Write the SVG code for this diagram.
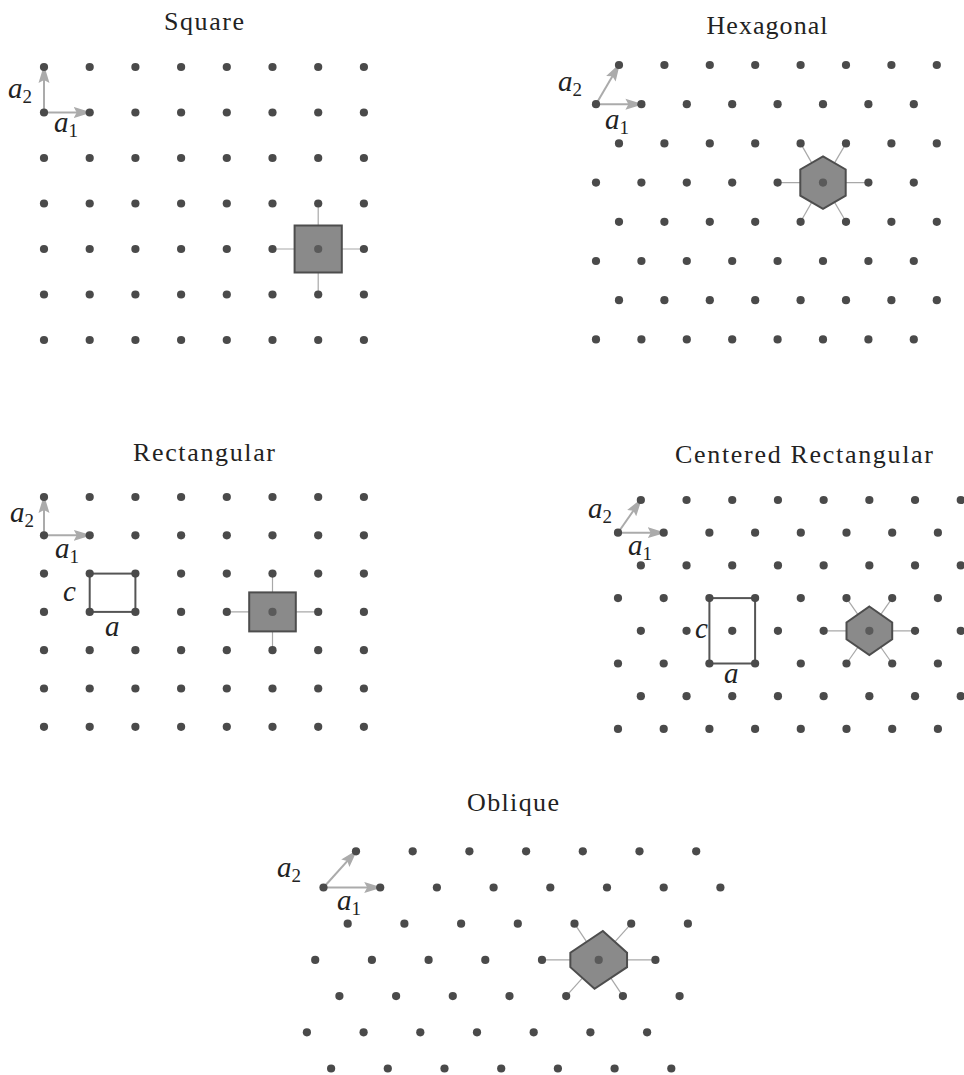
<svg xmlns="http://www.w3.org/2000/svg" xmlns:xlink="http://www.w3.org/1999/xlink" width="964" height="1075" viewBox="0 0 964 1075">
<style>
.bg{fill:#fff}
.t{font-family:"Liberation Serif","Times New Roman",serif;font-size:26px;fill:#222;text-anchor:middle}
.m{font-family:"Liberation Serif","Times New Roman",serif;font-size:29px;font-style:italic;fill:#222}
.s{font-size:19px;font-style:normal}
.pts use{fill:#4a4a4a}
.nb{stroke:#a8a8a8;stroke-width:1.2;fill:none}
.ws{fill:#8a8a8a;stroke:#4d4d4d;stroke-width:2}
.cd{fill:#5a5a5a}
.cv{fill:none;stroke:#555;stroke-width:2}
.ar{stroke:#ababab;stroke-width:2;fill:none;marker-end:url(#ah)}
</style>
<defs>
<circle id="d" r="4.1"/>
<marker id="ah" markerUnits="userSpaceOnUse" markerWidth="19" markerHeight="12" refX="16" refY="6" orient="auto">
<path d="M0,0.5 L18,6 L0,11.5 L3,6 z" fill="#ababab"/>
</marker>
</defs>
<rect class="bg" x="0" y="0" width="964" height="1075"/>

<!-- ========== SQUARE ========== -->
<g id="square">
<text class="t" x="204" y="30" textLength="80">Square</text>
<g id="square-connectors">
<line class="nb" x1="318.2" y1="249" x2="272.5" y2="249"/>
<line class="nb" x1="318.2" y1="249" x2="363.9" y2="249"/>
<line class="nb" x1="318.2" y1="249" x2="318.2" y2="203.5"/>
<line class="nb" x1="318.2" y1="249" x2="318.2" y2="294.5"/>
<line class="ar" x1="44" y1="112.5" x2="89.7" y2="112.5"/>
<line class="ar" x1="44" y1="112.5" x2="44" y2="67"/>
</g>
<g class="pts" id="square-points">
<use href="#d" x="44" y="67"/><use href="#d" x="89.7" y="67"/><use href="#d" x="135.4" y="67"/><use href="#d" x="181.1" y="67"/><use href="#d" x="226.8" y="67"/><use href="#d" x="272.5" y="67"/><use href="#d" x="318.2" y="67"/><use href="#d" x="363.9" y="67"/>
<use href="#d" x="44" y="112.5"/><use href="#d" x="89.7" y="112.5"/><use href="#d" x="135.4" y="112.5"/><use href="#d" x="181.1" y="112.5"/><use href="#d" x="226.8" y="112.5"/><use href="#d" x="272.5" y="112.5"/><use href="#d" x="318.2" y="112.5"/><use href="#d" x="363.9" y="112.5"/>
<use href="#d" x="44" y="158"/><use href="#d" x="89.7" y="158"/><use href="#d" x="135.4" y="158"/><use href="#d" x="181.1" y="158"/><use href="#d" x="226.8" y="158"/><use href="#d" x="272.5" y="158"/><use href="#d" x="318.2" y="158"/><use href="#d" x="363.9" y="158"/>
<use href="#d" x="44" y="203.5"/><use href="#d" x="89.7" y="203.5"/><use href="#d" x="135.4" y="203.5"/><use href="#d" x="181.1" y="203.5"/><use href="#d" x="226.8" y="203.5"/><use href="#d" x="272.5" y="203.5"/><use href="#d" x="318.2" y="203.5"/><use href="#d" x="363.9" y="203.5"/>
<use href="#d" x="44" y="249"/><use href="#d" x="89.7" y="249"/><use href="#d" x="135.4" y="249"/><use href="#d" x="181.1" y="249"/><use href="#d" x="226.8" y="249"/><use href="#d" x="272.5" y="249"/><use href="#d" x="363.9" y="249"/>
<use href="#d" x="44" y="294.5"/><use href="#d" x="89.7" y="294.5"/><use href="#d" x="135.4" y="294.5"/><use href="#d" x="181.1" y="294.5"/><use href="#d" x="226.8" y="294.5"/><use href="#d" x="272.5" y="294.5"/><use href="#d" x="318.2" y="294.5"/><use href="#d" x="363.9" y="294.5"/>
<use href="#d" x="44" y="340"/><use href="#d" x="89.7" y="340"/><use href="#d" x="135.4" y="340"/><use href="#d" x="181.1" y="340"/><use href="#d" x="226.8" y="340"/><use href="#d" x="272.5" y="340"/><use href="#d" x="318.2" y="340"/><use href="#d" x="363.9" y="340"/>
</g>
<g id="square-cell">
<rect class="ws" x="294.6" y="225.5" width="47.2" height="47"/>
<circle class="cd" cx="318.2" cy="249" r="4.1"/>
</g>
<text class="m" x="8" y="98">a<tspan class="s" dy="5">2</tspan></text>
<text class="m" x="54" y="132">a<tspan class="s" dy="5">1</tspan></text>
</g>

<!-- ========== HEXAGONAL ========== -->
<g id="hexagonal">
<text class="t" x="767" y="34" textLength="121">Hexagonal</text>
<g id="hex-connectors">
<line class="nb" x1="823" y1="182.6" x2="777.6" y2="182.6"/>
<line class="nb" x1="823" y1="182.6" x2="868.4" y2="182.6"/>
<line class="nb" x1="823" y1="182.6" x2="800.6" y2="143.4"/>
<line class="nb" x1="823" y1="182.6" x2="846" y2="143.4"/>
<line class="nb" x1="823" y1="182.6" x2="800.6" y2="221.8"/>
<line class="nb" x1="823" y1="182.6" x2="846" y2="221.8"/>
<line class="ar" x1="596" y1="104.2" x2="641.4" y2="104.2"/>
<line class="ar" x1="596" y1="104.2" x2="619" y2="65"/>
</g>
<g class="pts" id="hex-points">
<use href="#d" x="619" y="65"/><use href="#d" x="664.4" y="65"/><use href="#d" x="709.8" y="65"/><use href="#d" x="755.2" y="65"/><use href="#d" x="800.6" y="65"/><use href="#d" x="846" y="65"/><use href="#d" x="891.4" y="65"/><use href="#d" x="936.8" y="65"/>
<use href="#d" x="596" y="104.2"/><use href="#d" x="641.4" y="104.2"/><use href="#d" x="686.8" y="104.2"/><use href="#d" x="732.2" y="104.2"/><use href="#d" x="777.6" y="104.2"/><use href="#d" x="823" y="104.2"/><use href="#d" x="868.4" y="104.2"/><use href="#d" x="913.8" y="104.2"/>
<use href="#d" x="619" y="143.4"/><use href="#d" x="664.4" y="143.4"/><use href="#d" x="709.8" y="143.4"/><use href="#d" x="755.2" y="143.4"/><use href="#d" x="800.6" y="143.4"/><use href="#d" x="846" y="143.4"/><use href="#d" x="891.4" y="143.4"/><use href="#d" x="936.8" y="143.4"/>
<use href="#d" x="596" y="182.6"/><use href="#d" x="641.4" y="182.6"/><use href="#d" x="686.8" y="182.6"/><use href="#d" x="732.2" y="182.6"/><use href="#d" x="777.6" y="182.6"/><use href="#d" x="868.4" y="182.6"/><use href="#d" x="913.8" y="182.6"/>
<use href="#d" x="619" y="221.8"/><use href="#d" x="664.4" y="221.8"/><use href="#d" x="709.8" y="221.8"/><use href="#d" x="755.2" y="221.8"/><use href="#d" x="800.6" y="221.8"/><use href="#d" x="846" y="221.8"/><use href="#d" x="891.4" y="221.8"/><use href="#d" x="936.8" y="221.8"/>
<use href="#d" x="596" y="261"/><use href="#d" x="641.4" y="261"/><use href="#d" x="686.8" y="261"/><use href="#d" x="732.2" y="261"/><use href="#d" x="777.6" y="261"/><use href="#d" x="823" y="261"/><use href="#d" x="868.4" y="261"/><use href="#d" x="913.8" y="261"/>
<use href="#d" x="619" y="300.2"/><use href="#d" x="664.4" y="300.2"/><use href="#d" x="709.8" y="300.2"/><use href="#d" x="755.2" y="300.2"/><use href="#d" x="800.6" y="300.2"/><use href="#d" x="846" y="300.2"/><use href="#d" x="891.4" y="300.2"/><use href="#d" x="936.8" y="300.2"/>
<use href="#d" x="596" y="339.4"/><use href="#d" x="641.4" y="339.4"/><use href="#d" x="686.8" y="339.4"/><use href="#d" x="732.2" y="339.4"/><use href="#d" x="777.6" y="339.4"/><use href="#d" x="823" y="339.4"/><use href="#d" x="868.4" y="339.4"/><use href="#d" x="913.8" y="339.4"/>
</g>
<g id="hex-cell">
<polygon class="ws" points="823,156.4 845.7,169.5 845.7,195.7 823,208.8 800.3,195.7 800.3,169.5"/>
<circle class="cd" cx="823" cy="182.6" r="4.1"/>
</g>
<text class="m" x="558" y="91">a<tspan class="s" dy="5">2</tspan></text>
<text class="m" x="605" y="129">a<tspan class="s" dy="5">1</tspan></text>
</g>

<!-- ========== RECTANGULAR ========== -->
<g id="rectangular">
<text class="t" x="204" y="461" textLength="142">Rectangular</text>
<g id="rect-connectors">
<line class="nb" x1="272.5" y1="611.9" x2="226.8" y2="611.9"/>
<line class="nb" x1="272.5" y1="611.9" x2="318.2" y2="611.9"/>
<line class="nb" x1="272.5" y1="611.9" x2="272.5" y2="573.6"/>
<line class="nb" x1="272.5" y1="611.9" x2="272.5" y2="650.2"/>
<line class="ar" x1="44" y1="535.3" x2="89.7" y2="535.3"/>
<line class="ar" x1="44" y1="535.3" x2="44" y2="497"/>
</g>
<rect class="cv" x="89.7" y="573.6" width="45.7" height="38.3"/>
<g class="pts" id="rect-points">
<use href="#d" x="44" y="497"/><use href="#d" x="89.7" y="497"/><use href="#d" x="135.4" y="497"/><use href="#d" x="181.1" y="497"/><use href="#d" x="226.8" y="497"/><use href="#d" x="272.5" y="497"/><use href="#d" x="318.2" y="497"/><use href="#d" x="363.9" y="497"/>
<use href="#d" x="44" y="535.3"/><use href="#d" x="89.7" y="535.3"/><use href="#d" x="135.4" y="535.3"/><use href="#d" x="181.1" y="535.3"/><use href="#d" x="226.8" y="535.3"/><use href="#d" x="272.5" y="535.3"/><use href="#d" x="318.2" y="535.3"/><use href="#d" x="363.9" y="535.3"/>
<use href="#d" x="44" y="573.6"/><use href="#d" x="89.7" y="573.6"/><use href="#d" x="135.4" y="573.6"/><use href="#d" x="181.1" y="573.6"/><use href="#d" x="226.8" y="573.6"/><use href="#d" x="272.5" y="573.6"/><use href="#d" x="318.2" y="573.6"/><use href="#d" x="363.9" y="573.6"/>
<use href="#d" x="44" y="611.9"/><use href="#d" x="89.7" y="611.9"/><use href="#d" x="135.4" y="611.9"/><use href="#d" x="181.1" y="611.9"/><use href="#d" x="226.8" y="611.9"/><use href="#d" x="318.2" y="611.9"/><use href="#d" x="363.9" y="611.9"/>
<use href="#d" x="44" y="650.2"/><use href="#d" x="89.7" y="650.2"/><use href="#d" x="135.4" y="650.2"/><use href="#d" x="181.1" y="650.2"/><use href="#d" x="226.8" y="650.2"/><use href="#d" x="272.5" y="650.2"/><use href="#d" x="318.2" y="650.2"/><use href="#d" x="363.9" y="650.2"/>
<use href="#d" x="44" y="688.5"/><use href="#d" x="89.7" y="688.5"/><use href="#d" x="135.4" y="688.5"/><use href="#d" x="181.1" y="688.5"/><use href="#d" x="226.8" y="688.5"/><use href="#d" x="272.5" y="688.5"/><use href="#d" x="318.2" y="688.5"/><use href="#d" x="363.9" y="688.5"/>
<use href="#d" x="44" y="726.8"/><use href="#d" x="89.7" y="726.8"/><use href="#d" x="135.4" y="726.8"/><use href="#d" x="181.1" y="726.8"/><use href="#d" x="226.8" y="726.8"/><use href="#d" x="272.5" y="726.8"/><use href="#d" x="318.2" y="726.8"/><use href="#d" x="363.9" y="726.8"/>
</g>
<g id="rect-cell">
<rect class="ws" x="249.2" y="592.4" width="46.6" height="39"/>
<circle class="cd" cx="272.5" cy="611.9" r="4.1"/>
</g>
<text class="m" x="10" y="522">a<tspan class="s" dy="5">2</tspan></text>
<text class="m" x="55" y="558">a<tspan class="s" dy="5">1</tspan></text>
<text class="m" x="63" y="601">c</text>
<text class="m" x="105" y="636">a</text>
</g>

<!-- ========== CENTERED RECTANGULAR ========== -->
<g id="centered-rectangular">
<text class="t" x="804" y="463" textLength="258">Centered Rectangular</text>
<g id="crect-connectors">
<line class="nb" x1="869.35" y1="630.8" x2="823.65" y2="630.8"/>
<line class="nb" x1="869.35" y1="630.8" x2="915.05" y2="630.8"/>
<line class="nb" x1="869.35" y1="630.8" x2="846.5" y2="598.1"/>
<line class="nb" x1="869.35" y1="630.8" x2="892.2" y2="598.1"/>
<line class="nb" x1="869.35" y1="630.8" x2="846.5" y2="663.5"/>
<line class="nb" x1="869.35" y1="630.8" x2="892.2" y2="663.5"/>
<line class="ar" x1="618" y1="532.7" x2="663.7" y2="532.7"/>
<line class="ar" x1="618" y1="532.7" x2="640.85" y2="500"/>
</g>
<rect class="cv" x="709.4" y="598.1" width="45.7" height="65.4"/>
<g class="pts" id="crect-points">
<use href="#d" x="640.85" y="500"/><use href="#d" x="686.55" y="500"/><use href="#d" x="732.25" y="500"/><use href="#d" x="777.95" y="500"/><use href="#d" x="823.65" y="500"/><use href="#d" x="869.35" y="500"/><use href="#d" x="915.05" y="500"/><use href="#d" x="960.75" y="500"/>
<use href="#d" x="618" y="532.7"/><use href="#d" x="663.7" y="532.7"/><use href="#d" x="709.4" y="532.7"/><use href="#d" x="755.1" y="532.7"/><use href="#d" x="800.8" y="532.7"/><use href="#d" x="846.5" y="532.7"/><use href="#d" x="892.2" y="532.7"/><use href="#d" x="937.9" y="532.7"/>
<use href="#d" x="640.85" y="565.4"/><use href="#d" x="686.55" y="565.4"/><use href="#d" x="732.25" y="565.4"/><use href="#d" x="777.95" y="565.4"/><use href="#d" x="823.65" y="565.4"/><use href="#d" x="869.35" y="565.4"/><use href="#d" x="915.05" y="565.4"/><use href="#d" x="960.75" y="565.4"/>
<use href="#d" x="618" y="598.1"/><use href="#d" x="663.7" y="598.1"/><use href="#d" x="709.4" y="598.1"/><use href="#d" x="755.1" y="598.1"/><use href="#d" x="800.8" y="598.1"/><use href="#d" x="846.5" y="598.1"/><use href="#d" x="892.2" y="598.1"/><use href="#d" x="937.9" y="598.1"/>
<use href="#d" x="640.85" y="630.8"/><use href="#d" x="686.55" y="630.8"/><use href="#d" x="732.25" y="630.8"/><use href="#d" x="777.95" y="630.8"/><use href="#d" x="823.65" y="630.8"/><use href="#d" x="915.05" y="630.8"/><use href="#d" x="960.75" y="630.8"/>
<use href="#d" x="618" y="663.5"/><use href="#d" x="663.7" y="663.5"/><use href="#d" x="709.4" y="663.5"/><use href="#d" x="755.1" y="663.5"/><use href="#d" x="800.8" y="663.5"/><use href="#d" x="846.5" y="663.5"/><use href="#d" x="892.2" y="663.5"/><use href="#d" x="937.9" y="663.5"/>
<use href="#d" x="640.85" y="696.2"/><use href="#d" x="686.55" y="696.2"/><use href="#d" x="732.25" y="696.2"/><use href="#d" x="777.95" y="696.2"/><use href="#d" x="823.65" y="696.2"/><use href="#d" x="869.35" y="696.2"/><use href="#d" x="915.05" y="696.2"/><use href="#d" x="960.75" y="696.2"/>
<use href="#d" x="618" y="728.9"/><use href="#d" x="663.7" y="728.9"/><use href="#d" x="709.4" y="728.9"/><use href="#d" x="755.1" y="728.9"/><use href="#d" x="800.8" y="728.9"/><use href="#d" x="846.5" y="728.9"/><use href="#d" x="892.2" y="728.9"/><use href="#d" x="937.9" y="728.9"/>
</g>
<g id="crect-cell">
<polygon class="ws" points="869.35,606.5 892.2,622.4 892.2,639.2 869.35,655.1 846.5,639.2 846.5,622.4"/>
<circle class="cd" cx="869.35" cy="630.8" r="4.1"/>
</g>
<text class="m" x="588" y="518">a<tspan class="s" dy="5">2</tspan></text>
<text class="m" x="628" y="555">a<tspan class="s" dy="5">1</tspan></text>
<text class="m" x="695" y="638">c</text>
<text class="m" x="724" y="683">a</text>
</g>

<!-- ========== OBLIQUE ========== -->
<g id="oblique">
<text class="t" x="513" y="811" textLength="92">Oblique</text>
<g id="obl-connectors">
<line class="nb" x1="598.7" y1="959.9" x2="542" y2="959.9"/>
<line class="nb" x1="598.7" y1="959.9" x2="655.4" y2="959.9"/>
<line class="nb" x1="598.7" y1="959.9" x2="574.5" y2="923.7"/>
<line class="nb" x1="598.7" y1="959.9" x2="631.2" y2="923.7"/>
<line class="nb" x1="598.7" y1="959.9" x2="566.2" y2="996.1"/>
<line class="nb" x1="598.7" y1="959.9" x2="622.9" y2="996.1"/>
<line class="ar" x1="323.5" y1="887.5" x2="380.2" y2="887.5"/>
<line class="ar" x1="323.5" y1="887.5" x2="356" y2="851.3"/>
</g>
<g class="pts" id="obl-points">
<use href="#d" x="356" y="851.3"/><use href="#d" x="412.7" y="851.3"/><use href="#d" x="469.4" y="851.3"/><use href="#d" x="526.1" y="851.3"/><use href="#d" x="582.8" y="851.3"/><use href="#d" x="639.5" y="851.3"/><use href="#d" x="696.2" y="851.3"/>
<use href="#d" x="323.5" y="887.5"/><use href="#d" x="380.2" y="887.5"/><use href="#d" x="436.9" y="887.5"/><use href="#d" x="493.6" y="887.5"/><use href="#d" x="550.3" y="887.5"/><use href="#d" x="607" y="887.5"/><use href="#d" x="663.7" y="887.5"/><use href="#d" x="720.4" y="887.5"/>
<use href="#d" x="347.7" y="923.7"/><use href="#d" x="404.4" y="923.7"/><use href="#d" x="461.1" y="923.7"/><use href="#d" x="517.8" y="923.7"/><use href="#d" x="574.5" y="923.7"/><use href="#d" x="631.2" y="923.7"/><use href="#d" x="687.9" y="923.7"/>
<use href="#d" x="315.2" y="959.9"/><use href="#d" x="371.9" y="959.9"/><use href="#d" x="428.6" y="959.9"/><use href="#d" x="485.3" y="959.9"/><use href="#d" x="542" y="959.9"/><use href="#d" x="655.4" y="959.9"/>
<use href="#d" x="339.4" y="996.1"/><use href="#d" x="396.1" y="996.1"/><use href="#d" x="452.8" y="996.1"/><use href="#d" x="509.5" y="996.1"/><use href="#d" x="566.2" y="996.1"/><use href="#d" x="622.9" y="996.1"/><use href="#d" x="679.6" y="996.1"/>
<use href="#d" x="306.9" y="1032.3"/><use href="#d" x="363.6" y="1032.3"/><use href="#d" x="420.3" y="1032.3"/><use href="#d" x="477" y="1032.3"/><use href="#d" x="533.7" y="1032.3"/><use href="#d" x="590.4" y="1032.3"/><use href="#d" x="647.1" y="1032.3"/>
<use href="#d" x="331.1" y="1068.5"/><use href="#d" x="387.8" y="1068.5"/><use href="#d" x="444.5" y="1068.5"/><use href="#d" x="501.2" y="1068.5"/><use href="#d" x="557.9" y="1068.5"/><use href="#d" x="614.6" y="1068.5"/><use href="#d" x="671.3" y="1068.5"/>
</g>
<g id="obl-cell">
<polygon class="ws" points="627.05,952.67 602.85,930.94 570.35,952.67 570.35,967.13 594.55,988.86 627.05,967.13"/>
<circle class="cd" cx="598.7" cy="959.9" r="4.1"/>
</g>
<text class="m" x="277" y="877">a<tspan class="s" dy="5">2</tspan></text>
<text class="m" x="337" y="910">a<tspan class="s" dy="5">1</tspan></text>
</g>
</svg>
